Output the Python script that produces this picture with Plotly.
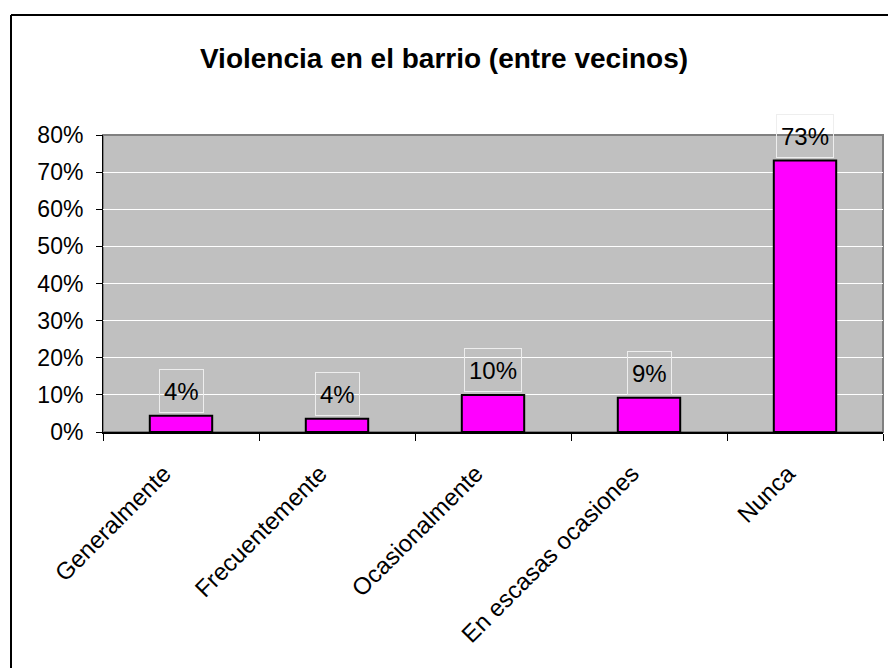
import plotly.graph_objects as go

categories = ["Generalmente", "Frecuentemente", "Ocasionalmente", "En escasas ocasiones", "Nunca"]
values = [0.044, 0.036, 0.100, 0.092, 0.731]
value_labels = ["4%", "4%", "10%", "9%", "73%"]
y_ticks = [0, 0.1, 0.2, 0.3, 0.4, 0.5, 0.6, 0.7, 0.8]
y_tick_labels = ["0%", "10%", "20%", "30%", "40%", "50%", "60%", "70%", "80%"]
title_text = "Violencia en el barrio (entre vecinos)"

FONT = "Liberation Sans, Arial, sans-serif"
W, H = 888, 668
L, R, T, B = 103, 5, 135, 236
PW, PH = W - L - R, H - T - B

fig = go.Figure()
fig.add_trace(go.Bar(
    x=categories, y=values,
    marker=dict(color="#FF00FF", line=dict(color="black", width=2)),
    hoverinfo="skip",
))

def est_width(s, size):
    w = 0
    for ch in s:
        w += 0.889 * size if ch == "%" else 0.556 * size
    return w

for c, v, t in zip(categories, values, value_labels):
    fig.add_annotation(
        x=c, y=v, text=t, showarrow=False,
        xref="x", yref="y", yanchor="bottom", yshift=3,
        font=dict(family=FONT, size=24, color="black"),
        bordercolor="#EEEEEE", borderwidth=1, borderpad=2,
        height=38, width=est_width(t, 24) + 4,
    )

# plot area border (gray)
fig.add_shape(type="rect", xref="paper", yref="paper", x0=0, x1=1, y0=0, y1=1,
              line=dict(color="#808080", width=2), layer="below")

# outer chart border (top and left visible)
bx = (11 - L) / PW
by = (H - B - 15) / PH
fig.add_shape(type="line", xref="paper", yref="paper",
              x0=bx, x1=1.2, y0=by, y1=by,
              line=dict(color="black", width=2))
fig.add_shape(type="line", xref="paper", yref="paper",
              x0=bx, x1=bx, y0=by, y1=-1.0,
              line=dict(color="black", width=2))

fig.update_layout(
    width=W, height=H,
    margin=dict(l=L, r=R, t=T, b=B),
    paper_bgcolor="white",
    plot_bgcolor="#C0C0C0",
    bargap=0.6,
    showlegend=False,
    title=dict(text="<b>" + title_text + "</b>", x=0.5, xref="container", xanchor="center",
               y=1 - 58 / H, yref="container", yanchor="middle",
               font=dict(family=FONT, size=28, color="black")),
    font=dict(family=FONT, size=23, color="black"),
)
fig.update_xaxes(
    tickangle=-45, tickson="boundaries", ticks="outside", ticklen=7, tickcolor="black",
    ticklabelstandoff=16, ticklabelshift=-17,
    showline=True, linecolor="black", linewidth=2,
    tickfont=dict(family=FONT, size=24, color="black"),
    showgrid=False, fixedrange=True,
)
fig.update_yaxes(
    range=[0, 0.8], tickvals=y_ticks, ticktext=y_tick_labels,
    ticks="outside", ticklen=6, tickcolor="black",
    ticklabelstandoff=8,
    showline=True, linecolor="black", linewidth=1,
    showgrid=True, gridcolor="white", gridwidth=1,
    zeroline=False,
    tickfont=dict(family=FONT, size=23, color="black"),
    fixedrange=True,
)

fig.write_html("out.html", config={"displayModeBar": False},
               post_script="document.body.style.margin='0';")
